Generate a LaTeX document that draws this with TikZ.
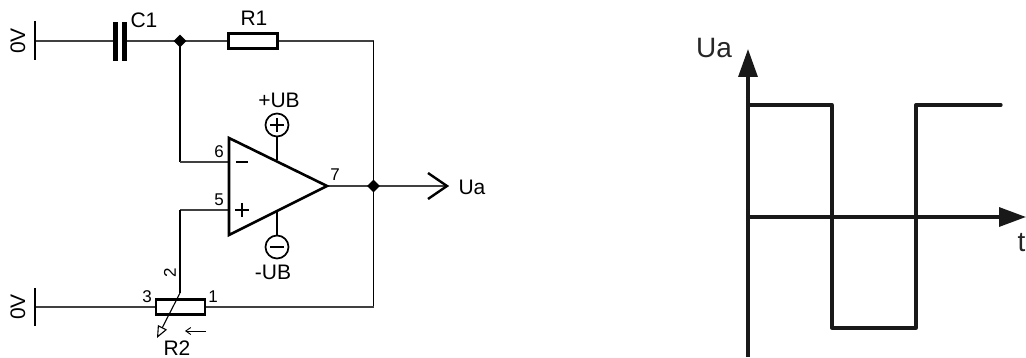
\documentclass[tikz,border=0pt]{standalone}
\usepackage{fontspec}
\setmainfont{Liberation Sans}
\usetikzlibrary{arrows.meta,shapes.geometric}
\tikzset{
  wire/.style={line width=1.1pt,draw=black!75},
  hv/.style={line width=1.7pt,line join=miter},
  heavy/.style={line width=2.6pt,line join=miter},
  box/.style={draw,line width=2.5pt,fill=white,inner sep=0pt,minimum width=49pt,minimum height=15pt},
  dot/.style={diamond,fill=black,inner sep=0pt,minimum size=13pt},
  supply/.style={circle,draw,line width=1.7pt,fill=white,inner sep=0pt,minimum size=23pt},
  lab/.style={inner sep=0pt,font=\fontsize{21}{21}\selectfont},
  pin/.style={inner sep=0pt,font=\fontsize{17}{17}\selectfont},
  graphline/.style={line width=3.3pt,line join=round,line cap=round,draw=black!90},
  big/.style={inner sep=0pt,font=\fontsize{28}{28}\selectfont,text=black!85}
}
\begin{document}
\begin{tikzpicture}[x=1pt,y=-1pt]
\useasboundingbox (0,0) rectangle (1026,358);
% named points
\coordinate (gndA) at (35,41);
\coordinate (gndB) at (35,307);
\coordinate (capL) at (115,41);
\coordinate (capR) at (124,41);
\coordinate (corner) at (373.5,41);
\coordinate (cornerB) at (373.5,307);
\coordinate (inM) at (229,162);
\coordinate (inMc) at (180,162);
\coordinate (inP) at (229,210);
\coordinate (inPc) at (180,210);
\coordinate (wipe) at (180,293);
\coordinate (wipeTip) at (157,338);
\coordinate (outTip) at (448,186);
\node[box] (R1) at (253,41) {};
\node[box] (R2) at (180.5,307) {};
\coordinate (opT) at (229,138);
\coordinate (opB) at (229,235);
\coordinate (opO) at (327,186);
\node[supply] (sp) at (277,125) {};
\node[supply] (sm) at (277,247) {};
\coordinate (stemP) at (277,160);
\coordinate (stemM) at (277,212);
\coordinate (j1c) at (180,41);
\coordinate (j2c) at (373.5,186);
% wires
\draw[wire] (gndA) -- (capL);
\draw[wire] (capR) -- (j1c) -- (R1);
\draw[wire] (R1) -- (corner);
\draw[hv] (corner) -- (cornerB);
\draw[hv] (j1c) -- (inMc);
\draw[wire] (inMc) -- (inM);
\draw[wire] (inP) -- (inPc);
\draw[hv] (inPc) -- (wipe);
\draw[wire] (gndB) -- (R2);
\draw[wire] (R2) -- (cornerB);
\draw[wire] (opO) -- (outTip);
\draw[hv] (sp) -- (stemP);
\draw[hv] (sm) -- (stemM);
\node[dot] (j1) at (j1c) {};
\node[dot] (j2) at (j2c) {};
% ground bars and capacitor
\draw[line width=2.2pt] (35,21) -- (35,60);
\draw[line width=2.2pt] (35,288) -- (35,326);
\fill (113,22) rectangle (118,61);
\fill (121.5,22) rectangle (127,61);
% opamp
\draw[heavy] (opT) -- (opB) -- (opO) -- cycle;
\draw[line width=1.2pt] (236,162) -- (248,162);
\draw[line width=1.2pt] (235,210) -- (249,210) (242,203) -- (242,217);
% supply signs
\draw[line width=1.2pt] (270,125) -- (284,125) (277,118) -- (277,132);
\draw[line width=1.2pt] (270,247) -- (284,247);
% output chevron
\draw[line width=2.4pt,line join=miter] (428,173) -- (447,186) -- (428,199);
% wiper
\draw[line width=1.1pt,-{Triangle[open,length=12pt,width=10pt]}] (wipe) -- (wipeTip);
\draw[line width=0.9pt,-{Straight Barb[length=5pt,width=7pt]}] (206,331) -- (185,331);
% labels
\node[lab,rotate=90] (zA) at (18,41) {0V};
\node[lab,rotate=90] (zB) at (18,307) {0V};
\node[lab] (lC1) at (144,20) {C1};
\node[lab] (lR1) at (254,18) {R1};
\node[lab] (lR2) at (177,348) {R2};
\node[lab] (lUp) at (279,100) {+UB};
\node[lab] (lUm) at (273,272) {-UB};
\node[lab] (lUa) at (472,187) {Ua};
\node[pin] (p6) at (219,152) {6};
\node[pin] (p5) at (219,200) {5};
\node[pin] (p7) at (335,175) {7};
\node[pin] (p3) at (147,297) {3};
\node[pin] (p1) at (213,297) {1};
\node[pin,rotate=90] (p2) at (170,273) {2};
% graph
\coordinate (yBot) at (748,357);
\coordinate (yTop) at (748,49);
\coordinate (xL) at (748,217);
\coordinate (xR) at (1026,217);
\draw[graphline,line cap=butt,-{Triangle[length=28pt,width=19pt]}] (yBot) -- (yTop);
\draw[graphline,line cap=butt,-{Triangle[length=27pt,width=19pt]}] (xL) -- (xR);
\draw[graphline] (748,105) -- (832,105) -- (832,328) -- (916,328) -- (916,105) -- (1001,105);
\node[big] (lUa2) at (714,48) {Ua};
\node[big,anchor=east] (lt) at (1025.5,243) {t};
\end{tikzpicture}
\end{document}
